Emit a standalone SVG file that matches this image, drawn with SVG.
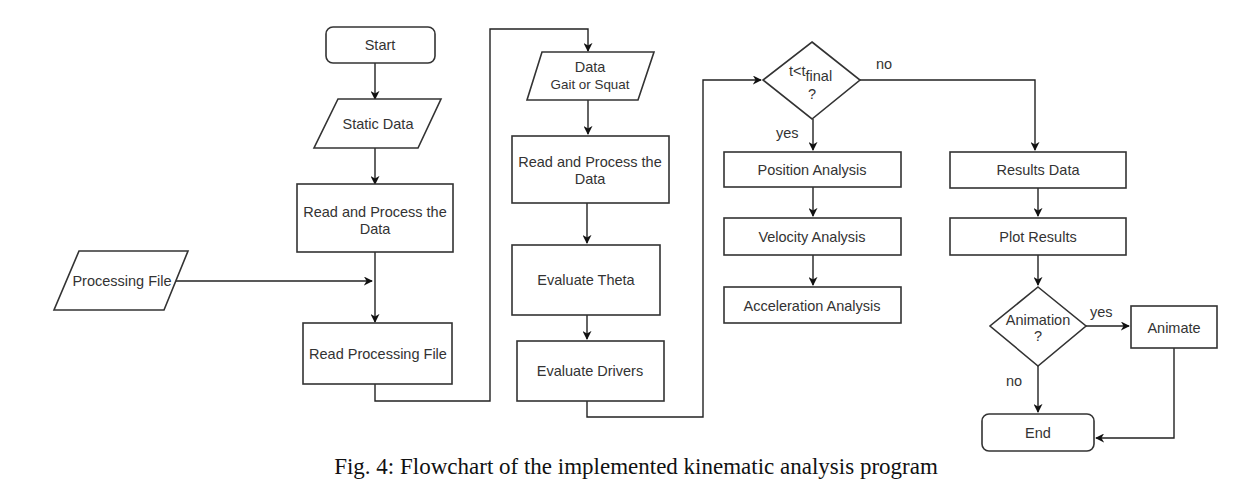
<svg xmlns="http://www.w3.org/2000/svg" width="1247" height="497" viewBox="0 0 1247 497">
<defs>
<marker id="arr" viewBox="0 0 10 10" refX="9" refY="5" markerWidth="9" markerHeight="9" markerUnits="userSpaceOnUse" orient="auto">
<path d="M0,0 L10,5 L0,10 L3,5 Z" fill="#111"/>
</marker>
<style>
.n{fill:#fff;stroke:#333;stroke-width:1.6}
.t{font-family:"Liberation Sans",Arial,sans-serif;font-size:14.5px;fill:#333;text-anchor:middle}
.l{font-family:"Liberation Sans",Arial,sans-serif;font-size:14.5px;fill:#333}
.c{fill:none;stroke:#222;stroke-width:1.4}
.a{marker-end:url(#arr)}
.cap{font-family:"Liberation Serif","Times New Roman",serif;font-size:23px;fill:#111;text-anchor:middle}
</style>
</defs>
<rect width="1247" height="497" fill="#fff"/>
<g id="connectors">
<path class="c a" d="M375,63 V99"/>
<path class="c a" d="M375,148 V184"/>
<path class="c a" d="M375,252 V322"/>
<path class="c a" d="M176,281 H372"/>
<path class="c a" d="M375,384 V401 H490 V29 H588 V51"/>
<path class="c a" d="M588,100 V134"/>
<path class="c a" d="M587,203 V243"/>
<path class="c a" d="M587,315 V339"/>
<path class="c a" d="M587,401 V417 H703 V80 H761"/>
<path class="c a" d="M860,80 H1035 V150"/>
<path class="c a" d="M813,119 V150"/>
<path class="c a" d="M813,187 V216"/>
<path class="c a" d="M813,255 V285"/>
<path class="c a" d="M1038,188 V216"/>
<path class="c a" d="M1038,255 V285"/>
<path class="c a" d="M1086,326 H1129"/>
<path class="c a" d="M1038,366 V412"/>
<path class="c a" d="M1174,348 V438 H1096"/>
</g>
<g id="start"><rect class="n" x="326" y="27" width="109" height="36" rx="7"/><text class="t" x="380" y="50">Start</text></g>
<g id="static-data"><polygon class="n" points="338,99 441,99 418,148 314,148"/><text class="t" x="378" y="129">Static Data</text></g>
<g id="read-process-1"><rect class="n" x="297" y="184" width="156" height="68"/><text class="t" x="375" y="217">Read and Process the</text><text class="t" x="375" y="234">Data</text></g>
<g id="processing-file"><polygon class="n" points="79,251 188,251 164,310 54,310"/><text class="t" x="122" y="286">Processing File</text></g>
<g id="read-processing-file"><rect class="n" x="303" y="323" width="149" height="61"/><text class="t" x="378" y="359">Read Processing File</text></g>
<g id="data-gait"><polygon class="n" points="542,52 654,52 638,100 527,100"/><text class="t" x="590" y="72">Data</text><text class="t" x="590" y="89" style="font-size:13.4px">Gait or Squat</text></g>
<g id="read-process-2"><rect class="n" x="512" y="136" width="157" height="67"/><text class="t" x="590" y="167">Read and Process the</text><text class="t" x="590" y="184">Data</text></g>
<g id="evaluate-theta"><rect class="n" x="512" y="245" width="148" height="70"/><text class="t" x="586" y="285">Evaluate Theta</text></g>
<g id="evaluate-drivers"><rect class="n" x="517" y="341" width="147" height="60"/><text class="t" x="590" y="376">Evaluate Drivers</text></g>
<g id="t-final"><polygon class="n" points="812,42 860,80 812,119 763,80"/><text class="l" x="789" y="76">t&lt;t<tspan dy="5">final</tspan></text><text class="t" x="812" y="99">?</text><text class="l" x="876" y="69">no</text><text class="l" x="776" y="138">yes</text></g>
<g id="position"><rect class="n" x="724" y="152" width="177" height="35"/><text class="t" x="812" y="175">Position Analysis</text></g>
<g id="velocity"><rect class="n" x="724" y="218" width="177" height="37"/><text class="t" x="812" y="242">Velocity Analysis</text></g>
<g id="acceleration"><rect class="n" x="724" y="287" width="177" height="36"/><text class="t" x="812" y="311">Acceleration Analysis</text></g>
<g id="results-data"><rect class="n" x="950" y="152" width="176" height="36"/><text class="t" x="1038" y="175">Results Data</text></g>
<g id="plot-results"><rect class="n" x="950" y="218" width="176" height="37"/><text class="t" x="1038" y="242">Plot Results</text></g>
<g id="animation"><polygon class="n" points="1038,287 1086,326 1038,366 990,326"/><text class="t" x="1038" y="325">Animation</text><text class="t" x="1038" y="341">?</text><text class="l" x="1090" y="317">yes</text><text class="l" x="1006" y="386">no</text></g>
<g id="animate"><rect class="n" x="1131" y="306" width="86" height="42"/><text class="t" x="1174" y="333">Animate</text></g>
<g id="end"><rect class="n" x="982" y="414" width="112" height="37" rx="7"/><text class="t" x="1038" y="438">End</text></g>
<text class="cap" x="636" y="474">Fig. 4: Flowchart of the implemented kinematic analysis program</text>
</svg>
